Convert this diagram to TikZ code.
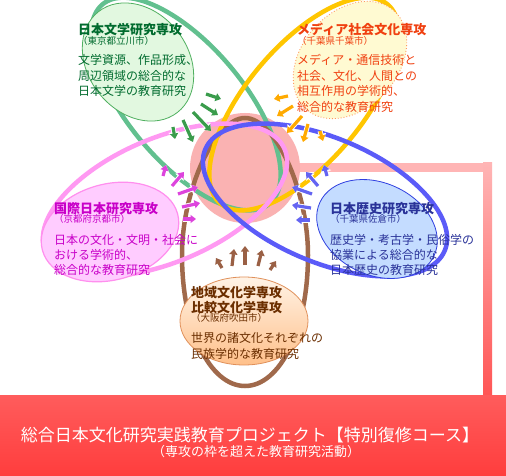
\documentclass[tikz,border=0pt]{standalone}
\usepackage{fontspec}
\newfontfamily\jp{Noto Sans CJK JP}
\usetikzlibrary{arrows.meta}
\definecolor{cgreen}{HTML}{62C08F}
\definecolor{cyellow}{HTML}{FFC600}
\definecolor{cpink}{HTML}{FF99F2}
\definecolor{cblue}{HTML}{5B5BF8}
\definecolor{cbrown}{HTML}{A0694B}
\definecolor{hubpink}{HTML}{FAB2B2}
\definecolor{framepink}{HTML}{FFB5B5}
\definecolor{framered}{HTML}{FF5555}
\definecolor{barTop}{HTML}{FF5C5C}
\definecolor{barBot}{HTML}{FF3D3D}
\definecolor{agreen}{HTML}{3A9C4C}
\definecolor{ayellow}{HTML}{FFAA00}
\definecolor{apink}{HTML}{DD44DD}
\definecolor{ablue}{HTML}{6464F2}
\definecolor{abrown}{HTML}{9A6045}
\definecolor{gfill}{HTML}{E2F8E0}
\definecolor{gedge}{HTML}{50B060}
\definecolor{yfill}{HTML}{FFFAD2}
\definecolor{yedge}{HTML}{FF9A60}
\definecolor{pfill}{HTML}{FFCCFF}
\definecolor{pedge}{HTML}{FF8FEE}
\definecolor{bfill}{HTML}{C4DCFF}
\definecolor{bedge}{HTML}{3040E0}
\definecolor{otop}{HTML}{FFF3E6}
\definecolor{obot}{HTML}{FFC08A}
\definecolor{oedge}{HTML}{E0905A}
\definecolor{tgreen}{HTML}{006B2E}
\definecolor{tyellow}{HTML}{F04010}
\definecolor{tpink}{HTML}{C800C8}
\definecolor{tblue}{HTML}{2A3399}
\definecolor{tbrown}{HTML}{6B2E00}
\tikzset{
  lbl/.style={inner sep=0pt, anchor=base west, font=\jp\fontsize{12}{14}\selectfont},
  ttl/.style={inner sep=0pt, anchor=base west, font=\jp\bfseries\fontsize{13}{15}\selectfont},
  loc/.style={inner sep=0pt, anchor=base west, font=\jp\fontsize{9.5}{11}\selectfont},
  loopline/.style={line width=4.5pt},
  arr/.style={line width=3.2pt, -{Triangle[width=8pt,length=5.5pt]},
    preaction={draw=white, line width=5pt, -{Triangle[width=10.5pt,length=7pt]}}}
}
\begin{document}
\begin{tikzpicture}[x=1pt,y=-1pt]
\useasboundingbox (0,0) rectangle (506,476);
\fill[white] (0,0) rectangle (506,476);
% frame band
\fill[framepink] (285,163) rectangle (492,172);
\shade[top color=framepink, bottom color=framered] (483,163) rectangle (492,396);
\node[circle, fill=hubpink, minimum size=110pt, inner sep=0pt] (hub) at (245,168) {};
\shade[top color=barTop, bottom color=barBot] (0,395) rectangle (506,476);
% loops
\draw[loopline, cgreen, rotate around={-50:(186,104)}] (186,104) ellipse [x radius=130, y radius=58];
\draw[loopline, cbrown] (245,118) .. controls (275,118) and (308,190) .. (308,255)
   .. controls (308,330) and (280,386) .. (245,386)
   .. controls (210,386) and (182,330) .. (182,255)
   .. controls (182,190) and (215,118) .. (245,118) -- cycle;
\draw[loopline, cyellow, rotate around={50:(304,104)}] (304,104) ellipse [x radius=130, y radius=58];
\draw[loopline, cpink, rotate around={23:(165,200)}] (165,200) ellipse [x radius=130, y radius=62];
\draw[loopline, cblue, rotate around={-23:(325,200)}] (325,200) ellipse [x radius=130, y radius=62];
% label ellipses
\draw[fill=gfill, draw=gedge, line width=0.8pt, rotate around={-52:(138,62)}] (138,62) ellipse [x radius=64, y radius=50];
\draw[fill=yfill, draw=yedge, line width=0.9pt, dotted, rotate around={48:(350,60)}] (350,60) ellipse [x radius=66, y radius=48];
\draw[fill=pfill, draw=pedge, line width=1.2pt, rotate around={15:(110,232)}] (110,232) ellipse [x radius=70, y radius=48];
\draw[fill=bfill, draw=bedge, line width=0.8pt, rotate around={-25:(377,229)}] (377,229) ellipse [x radius=63, y radius=46];
\draw[top color=otop, bottom color=obot, draw=oedge, line width=0.8pt] (244,321) ellipse [x radius=64, y radius=44];
% arrows
\foreach \i/\a/\b/\c/\d in {1/206/94/221/99, 2/201/104/218/115, 3/193/112/211/131, 4/183/120/193/142, 5/173/127/175/139}{
  \coordinate (gt\i) at (\a,\b); \coordinate (gh\i) at (\c,\d);
  \draw[arr, agreen] (gt\i) -- (gh\i);}
\foreach \i/\a/\b/\c/\d in {1/288/96/274/99, 2/293/106/277/116, 3/302/116/287/133, 4/308/124/303/142, 5/320/131/323/141}{
  \coordinate (yt\i) at (\a,\b); \coordinate (yh\i) at (\c,\d);
  \draw[arr, ayellow] (yt\i) -- (yh\i);}
\foreach \i/\a/\b/\c/\d in {1/163/176/166/165, 2/172/186/184/172, 3/178/194/198/187, 4/182/207/200/203, 5/183/219/196/219}{
  \coordinate (pt\i) at (\a,\b); \coordinate (ph\i) at (\c,\d);
  \draw[arr, apink] (pt\i) -- (ph\i);}
\foreach \i/\a/\b/\c/\d in {1/327/176/324/165, 2/318/186/306/172, 3/312/194/292/187, 4/311/208/292/205, 5/310/220/296/220}{
  \coordinate (bt\i) at (\a,\b); \coordinate (bh\i) at (\c,\d);
  \draw[arr, ablue] (bt\i) -- (bh\i);}
\foreach \i/\a/\b/\c/\d in {1/222/268/216/258, 2/232/266/234/249, 3/245/265/245/246, 4/258/266/262/250, 5/270/270/276/261}{
  \coordinate (rt\i) at (\a,\b); \coordinate (rh\i) at (\c,\d);
  \draw[arr, abrown] (rt\i) -- (rh\i);}
% texts: green
\node[ttl, text=tgreen] (gT) at (78,35) {日本文学研究専攻};
\node[loc, text=tgreen] (gL) at (78,45) {（東京都立川市）};
\node[lbl, text=tgreen] (g1) at (78,65) {文学資源、作品形成、};
\node[lbl, text=tgreen] (g2) at (78,80.5) {周辺領域の総合的な};
\node[lbl, text=tgreen] (g3) at (78,96) {日本文学の教育研究};
% yellow
\node[ttl, text=tyellow] (yT) at (297,35) {メディア社会文化専攻};
\node[loc, text=tyellow] (yL) at (297,45) {（千葉県千葉市）};
\node[lbl, text=tyellow] (y1) at (297,65) {メディア・通信技術と};
\node[lbl, text=tyellow] (y2) at (297,80.5) {社会、文化、人間との};
\node[lbl, text=tyellow] (y3) at (297,96) {相互作用の学術的、};
\node[lbl, text=tyellow] (y4) at (297,111.5) {総合的な教育研究};
% pink
\node[ttl, text=tpink] (pT) at (54,213.5) {国際日本研究専攻};
\node[loc, text=tpink] (pL) at (54,222.5) {（京都府京都市）};
\node[lbl, text=tpink] (p1) at (54,244) {日本の文化・文明・社会に};
\node[lbl, text=tpink] (p2) at (54,259) {おける学術的、};
\node[lbl, text=tpink] (p3) at (54,274.5) {総合的な教育研究};
% blue
\node[ttl, text=tblue] (bT) at (330,213.5) {日本歴史研究専攻};
\node[loc, text=tblue] (bL) at (330,222.5) {（千葉県佐倉市）};
\node[lbl, text=tblue] (b1) at (330,244) {歴史学・考古学・民俗学の};
\node[lbl, text=tblue] (b2) at (330,259) {協業による総合的な};
\node[lbl, text=tblue] (b3) at (330,274.5) {日本歴史の教育研究};
% brown
\node[ttl, text=tbrown] (rT1) at (191,297.5) {地域文化学専攻};
\node[ttl, text=tbrown] (rT2) at (191,312.5) {比較文化学専攻};
\node[loc, text=tbrown] (rL) at (191,321.5) {（大阪府吹田市）};
\node[lbl, text=tbrown] (r1) at (191,342.5) {世界の諸文化それぞれの};
\node[lbl, text=tbrown] (r2) at (191,358) {民族学的な教育研究};
% bottom bar text
\node[inner sep=0pt, anchor=base, text=white, font=\jp\fontsize{17}{19}\selectfont] (main) at (250,441) {総合日本文化研究実践教育プロジェクト【特別復修コース】};
\node[inner sep=0pt, anchor=base, text=white, font=\jp\fontsize{13}{15}\selectfont] (sub) at (256,456.5) {（専攻の枠を超えた教育研究活動）};
\end{tikzpicture}
\end{document}
